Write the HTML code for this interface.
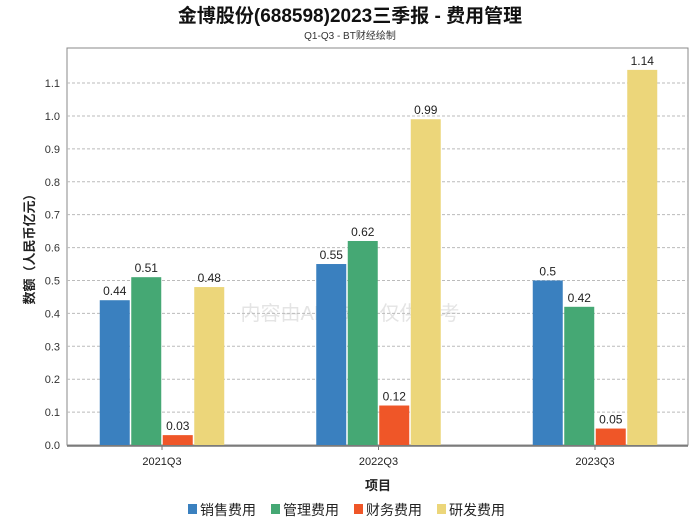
<!DOCTYPE html>
<html><head><meta charset="utf-8"><style>
body{margin:0;background:#fff;width:700px;height:524px;overflow:hidden;font-family:"Liberation Sans","Noto Sans CJK SC",sans-serif}
</style></head><body>
<svg width="700" height="524" id="c" xmlns="http://www.w3.org/2000/svg" font-family="Liberation Sans, Noto Sans CJK SC, sans-serif">
<text x="350" y="22" text-anchor="middle" font-size="19" font-weight="bold" fill="#111">金博股份(688598)2023三季报 - 费用管理</text>
<text x="350" y="39" text-anchor="middle" font-size="10" fill="#333">Q1-Q3 - BT财经绘制</text>
<text x="350" y="320" text-anchor="middle" font-size="20" fill="#e4e4e4">内容由AI生成，仅供参考</text>
<g id="plot"></g>
<text x="378" y="490" text-anchor="middle" font-size="13" font-weight="bold" fill="#222">项目</text>
<text transform="translate(34,246) rotate(-90)" text-anchor="middle" font-size="13" font-weight="bold" fill="#222">数额（人民币亿元）</text>
<g id="legend"></g>
</svg>
<script>
const categories=["2021Q3","2022Q3","2023Q3"];
const seriesNames=["销售费用","管理费用","财务费用","研发费用"];
const sales=[0.44,0.55,0.5];
const admin=[0.51,0.62,0.42];
const finance=[0.03,0.12,0.05];
const rnd=[0.48,0.99,1.14];
const yTicks=[0,0.1,0.2,0.3,0.4,0.5,0.6,0.7,0.8,0.9,1.0,1.1];
const colors=["#3a80bf","#45a874","#ef5628","#ecd67a"];
const NS="http://www.w3.org/2000/svg";
const L=67,R=688,T=48,B=445,yMax=1.2065;
const y=v=>B-v/yMax*(B-T);
const cw=216.5;
const xc=i=>162+cw*i;
const plot=document.getElementById('plot');
function mk(tag,a,p){const e=document.createElementNS(NS,tag);for(const k in a)e.setAttribute(k,a[k]);(p||plot).appendChild(e);return e;}
let r=mk('rect',{x:L,y:T,width:R-L,height:B-T,fill:'none',stroke:'#888'});


yTicks.forEach(t=>{
 if(t>0){let g=mk('line',{x1:L,x2:R,y1:y(t),y2:y(t),stroke:'#bbb','stroke-dasharray':'3,2'});
 
 }
 let tx=mk('text',{x:L-7,y:y(t)+4,'text-anchor':'end','font-size':11,fill:'#333'});
 tx.textContent=t.toFixed(1);
 
 
});
let ax=mk('line',{x1:L,x2:R,y1:B+1,y2:B+1,stroke:'#777','stroke-width':1.5});


const series=[sales,admin,finance,rnd];
const bw=30,gap=1.5;
categories.forEach((c,i)=>{
 let tk=mk('line',{x1:xc(i),x2:xc(i),y1:B+1,y2:B+5,stroke:'#777'});
 
 
 let tl=mk('text',{x:xc(i),y:B+20,'text-anchor':'middle','font-size':11,fill:'#222'});
 tl.textContent=c;
 
 
 series.forEach((s,j)=>{
  const x0=xc(i)-2*bw-1.5*gap+j*(bw+gap);
  let b=mk('rect',{x:x0,y:y(s[i]),width:bw,height:B-y(s[i]),fill:colors[j]});
  
  
  let v=mk('text',{x:x0+bw/2,y:y(s[i])-5,'text-anchor':'middle','font-size':12,fill:'#222'});
  v.textContent=String(s[i]);
  
  
 });
});
const lg=document.getElementById('legend');
let cx=188;
seriesNames.forEach((n,j)=>{
 let sq=mk('rect',{x:cx,y:504,width:9,height:10,fill:colors[j]},lg);
 
 
 let t=mk('text',{x:cx+12,y:515,'font-size':14,fill:'#222'},lg);
 t.textContent=n;
 
 
 cx+=83;
});
</script>
</body></html>
